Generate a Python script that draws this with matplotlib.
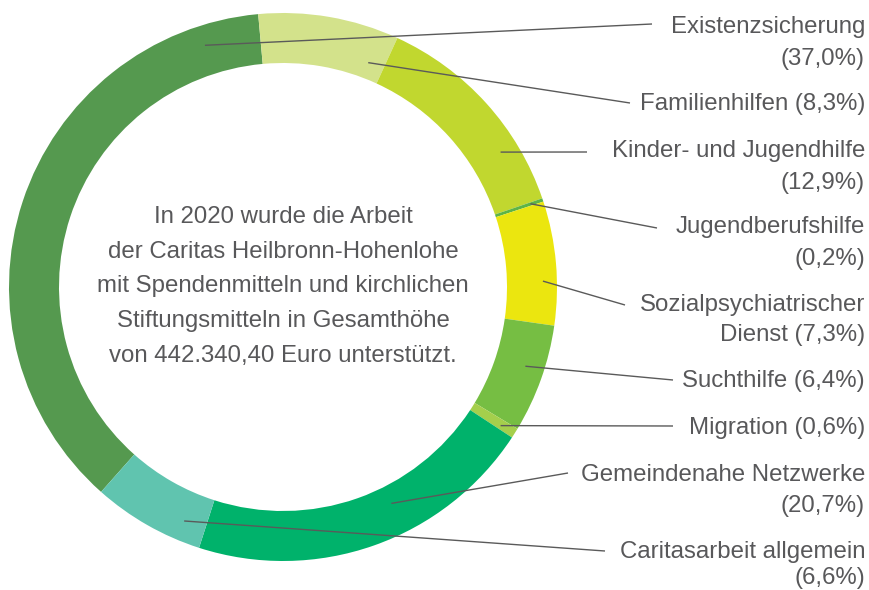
import numpy as np
import matplotlib
matplotlib.use('Agg')
import matplotlib.pyplot as plt

# Bildgröße in Pixel (100 dpi)
W, H = 869, 590

# Daten
categories = ['Existenzsicherung', 'Familienhilfen', 'Kinder- und Jugendhilfe',
              'Jugendberufshilfe', 'Sozialpsychiatrischer Dienst', 'Suchthilfe',
              'Migration', 'Gemeindenahe Netzwerke', 'Caritasarbeit allgemein']
shares = [37.0, 8.3, 12.9, 0.2, 7.3, 6.4, 0.6, 20.7, 6.6]
colors = ['#55994F', '#D3E28B', '#C1D72F', '#5DB447', '#EBE60F',
          '#76BE43', '#A5CF4C', '#00B26B', '#60C4AF']

# Beschriftungen ({p} = Prozentwert)
label_lines = [['Existenzsicherung', '{p}'],
               ['Familienhilfen {p}'],
               ['Kinder- und Jugendhilfe', '{p}'],
               ['Jugendberufshilfe', '{p}'],
               ['Sozialpsychiatrischer', 'Dienst {p}'],
               ['Suchthilfe {p}'],
               ['Migration {p}'],
               ['Gemeindenahe Netzwerke', '{p}'],
               ['Caritasarbeit allgemein', '{p}']]

center_text = ['In 2020 wurde die Arbeit',
               'der Caritas Heilbronn-Hohenlohe',
               'mit Spendenmitteln und kirchlichen',
               'Stiftungsmitteln in Gesamthöhe',
               'von 442.340,40 Euro unterstützt.']

# Layout (Pixel, y von oben)
cx, cy, R, ring = 283, 287, 274, 50
label_x = 865
label_baselines = [[33, 65], [110], [157, 189], [233, 265], [311, 341],
                   [387], [434], [481, 512], [558, 584]]
leader_end = [(652, 24), (630, 103), (587, 152), (657, 228), (625, 305),
              (673, 380), (673, 426), (568, 473), (605, 551)]
leader_angle = [107.9, 69.2, 31.8, 18.6, 1.3, -18.1, -32.5, -63.4, -112.9]
leader_r = [254, 240, 256, 261, 260, 255, 258, 242, 254]
center_baselines = [223, 258, 292, 327, 362]

txt_color = '#58585A'
line_color = '#5A5A5A'
font = 'Liberation Sans'
fs = 17.3


def py(y):
    return H - y


fig = plt.figure(figsize=(W / 100, H / 100), dpi=100)
ax = fig.add_axes([0, 0, 1, 1])

ax.pie(shares, colors=colors, radius=R, center=(cx, py(cy)),
       startangle=228.4, counterclock=False,
       wedgeprops=dict(width=ring, linewidth=0))

ax.set_xlim(0, W)
ax.set_ylim(0, H)
ax.set_aspect('equal')
ax.axis('off')

# Hinweislinien
for ang, r, (ex, ey) in zip(leader_angle, leader_r, leader_end):
    sx = cx + r * np.cos(np.radians(ang))
    sy = py(cy) + r * np.sin(np.radians(ang))
    ax.plot([sx, ex], [sy, py(ey)], color=line_color, lw=1.0,
            solid_capstyle='butt')

# Beschriftungen rechts
for lines, bases, s in zip(label_lines, label_baselines, shares):
    p = '({:.1f}%)'.format(s).replace('.', ',')
    for line, b in zip(lines, bases):
        ax.text(label_x, py(b), line.format(p=p), ha='right', va='baseline',
                fontsize=fs, color=txt_color, family=font)

# Text in der Mitte
for line, b in zip(center_text, center_baselines):
    ax.text(cx, py(b), line, ha='center', va='baseline',
            fontsize=fs, color=txt_color, family=font)

plt.savefig('out.png', dpi=100)
